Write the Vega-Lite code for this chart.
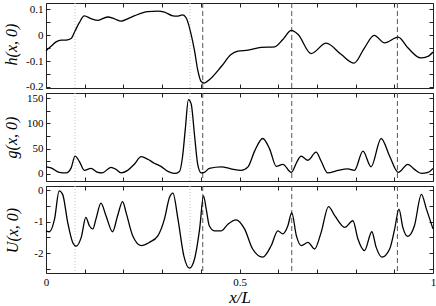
{
  "$schema": "https://vega.github.io/schema/vega-lite/v6.json",
  "padding": {"left": 0, "top": 2, "right": 0, "bottom": 0},
  "background": "white",
  "spacing": 5,
  "bounds": "flush",
  "datasets": {
    "lines": [
      {"x": 0.075, "type": "dotted"},
      {"x": 0.372, "type": "dotted"},
      {"x": 0.405, "type": "dashed"},
      {"x": 0.635, "type": "dashed"},
      {"x": 0.908, "type": "dashed"}
    ],
    "h": [
      {"x": 0, "y": -0.060}, {"x": 0.013, "y": -0.043}, {"x": 0.026, "y": -0.026}, {"x": 0.039, "y": -0.019},
      {"x": 0.052, "y": -0.019}, {"x": 0.065, "y": -0.013}, {"x": 0.075, "y": 0.016}, {"x": 0.086, "y": 0.048},
      {"x": 0.099, "y": 0.074}, {"x": 0.116, "y": 0.064}, {"x": 0.134, "y": 0.057}, {"x": 0.159, "y": 0.070},
      {"x": 0.177, "y": 0.063}, {"x": 0.194, "y": 0.054}, {"x": 0.211, "y": 0.063}, {"x": 0.228, "y": 0.074},
      {"x": 0.263, "y": 0.091}, {"x": 0.289, "y": 0.093}, {"x": 0.306, "y": 0.089}, {"x": 0.328, "y": 0.074},
      {"x": 0.338, "y": 0.073}, {"x": 0.353, "y": 0.078}, {"x": 0.362, "y": 0.067}, {"x": 0.375, "y": 0.003},
      {"x": 0.384, "y": -0.062}, {"x": 0.392, "y": -0.134}, {"x": 0.401, "y": -0.179}, {"x": 0.409, "y": -0.185},
      {"x": 0.422, "y": -0.172}, {"x": 0.453, "y": -0.121}, {"x": 0.478, "y": -0.075}, {"x": 0.496, "y": -0.062},
      {"x": 0.522, "y": -0.058}, {"x": 0.556, "y": -0.047}, {"x": 0.591, "y": -0.045}, {"x": 0.612, "y": -0.017},
      {"x": 0.634, "y": 0.018}, {"x": 0.651, "y": 0.003}, {"x": 0.685, "y": -0.071}, {"x": 0.724, "y": -0.031},
      {"x": 0.763, "y": -0.075}, {"x": 0.796, "y": -0.108}, {"x": 0.823, "y": -0.049}, {"x": 0.848, "y": -0.001},
      {"x": 0.875, "y": -0.030}, {"x": 0.910, "y": -0.008}, {"x": 0.935, "y": -0.049}, {"x": 0.968, "y": -0.088},
      {"x": 0.987, "y": -0.082}, {"x": 1.0, "y": -0.065}
    ],
    "g": [
      {"x": 0, "y": 14}, {"x": 0.013, "y": 12}, {"x": 0.034, "y": 3}, {"x": 0.052, "y": 2}, {"x": 0.065, "y": 12},
      {"x": 0.075, "y": 35}, {"x": 0.086, "y": 25}, {"x": 0.099, "y": 7}, {"x": 0.116, "y": 11}, {"x": 0.134, "y": 3},
      {"x": 0.145, "y": 2}, {"x": 0.168, "y": 13}, {"x": 0.181, "y": 9}, {"x": 0.194, "y": 2}, {"x": 0.211, "y": 7},
      {"x": 0.228, "y": 19}, {"x": 0.246, "y": 34}, {"x": 0.263, "y": 29}, {"x": 0.280, "y": 21}, {"x": 0.297, "y": 15},
      {"x": 0.315, "y": 5}, {"x": 0.332, "y": 1}, {"x": 0.345, "y": 5}, {"x": 0.353, "y": 35}, {"x": 0.360, "y": 89},
      {"x": 0.368, "y": 147}, {"x": 0.375, "y": 139}, {"x": 0.384, "y": 75}, {"x": 0.392, "y": 19}, {"x": 0.401, "y": 2},
      {"x": 0.409, "y": 3}, {"x": 0.422, "y": 11}, {"x": 0.453, "y": 14}, {"x": 0.478, "y": 10}, {"x": 0.504, "y": 7},
      {"x": 0.522, "y": 14}, {"x": 0.539, "y": 45}, {"x": 0.560, "y": 70}, {"x": 0.578, "y": 49}, {"x": 0.595, "y": 15},
      {"x": 0.612, "y": 19}, {"x": 0.634, "y": 3}, {"x": 0.649, "y": 25}, {"x": 0.659, "y": 35}, {"x": 0.677, "y": 27},
      {"x": 0.698, "y": 43}, {"x": 0.711, "y": 25}, {"x": 0.728, "y": 2}, {"x": 0.754, "y": 7}, {"x": 0.780, "y": 10},
      {"x": 0.797, "y": 7}, {"x": 0.819, "y": 45}, {"x": 0.840, "y": 14}, {"x": 0.866, "y": 70}, {"x": 0.888, "y": 35},
      {"x": 0.910, "y": 3}, {"x": 0.935, "y": 19}, {"x": 0.952, "y": 9}, {"x": 0.970, "y": 1}, {"x": 0.987, "y": 3},
      {"x": 1.0, "y": 11}
    ],
    "U": [
      {"x": 0, "y": -1.29}, {"x": 0.009, "y": -1.32}, {"x": 0.022, "y": -0.92}, {"x": 0.034, "y": -0.02},
      {"x": 0.043, "y": -0.13}, {"x": 0.056, "y": -1.02}, {"x": 0.069, "y": -1.66}, {"x": 0.078, "y": -1.78},
      {"x": 0.091, "y": -1.50}, {"x": 0.103, "y": -0.86}, {"x": 0.112, "y": -1.13}, {"x": 0.121, "y": -1.23},
      {"x": 0.129, "y": -0.92}, {"x": 0.142, "y": -0.41}, {"x": 0.155, "y": -0.81}, {"x": 0.172, "y": -1.32},
      {"x": 0.185, "y": -0.81}, {"x": 0.198, "y": -0.36}, {"x": 0.207, "y": -0.71}, {"x": 0.224, "y": -1.45},
      {"x": 0.246, "y": -1.76}, {"x": 0.267, "y": -1.66}, {"x": 0.289, "y": -1.45}, {"x": 0.306, "y": -0.92},
      {"x": 0.319, "y": -0.23}, {"x": 0.328, "y": -0.09}, {"x": 0.341, "y": -0.92}, {"x": 0.356, "y": -2.08},
      {"x": 0.371, "y": -2.48}, {"x": 0.384, "y": -2.18}, {"x": 0.397, "y": -1.23}, {"x": 0.407, "y": -0.18},
      {"x": 0.414, "y": -0.60}, {"x": 0.422, "y": -1.13}, {"x": 0.435, "y": -1.29}, {"x": 0.453, "y": -1.29},
      {"x": 0.470, "y": -1.08}, {"x": 0.491, "y": -0.94}, {"x": 0.513, "y": -1.23}, {"x": 0.534, "y": -1.87},
      {"x": 0.560, "y": -2.13}, {"x": 0.582, "y": -1.76}, {"x": 0.599, "y": -1.29}, {"x": 0.612, "y": -1.39},
      {"x": 0.625, "y": -1.13}, {"x": 0.635, "y": -0.71}, {"x": 0.647, "y": -1.45}, {"x": 0.660, "y": -1.76},
      {"x": 0.677, "y": -1.66}, {"x": 0.694, "y": -1.87}, {"x": 0.711, "y": -1.34}, {"x": 0.730, "y": -0.52},
      {"x": 0.746, "y": -0.81}, {"x": 0.772, "y": -1.18}, {"x": 0.793, "y": -0.97}, {"x": 0.806, "y": -1.55},
      {"x": 0.823, "y": -1.92}, {"x": 0.842, "y": -1.32}, {"x": 0.853, "y": -1.81}, {"x": 0.868, "y": -2.13},
      {"x": 0.888, "y": -1.87}, {"x": 0.901, "y": -1.23}, {"x": 0.912, "y": -0.60}, {"x": 0.922, "y": -1.18},
      {"x": 0.935, "y": -1.47}, {"x": 0.952, "y": -1.13}, {"x": 0.970, "y": -0.13}, {"x": 0.983, "y": -0.60},
      {"x": 1.0, "y": -1.23}
    ]
  },
  "vconcat": [
    {
      "width": 387, "height": 85,
      "layer": [
        {
          "data": {"name": "lines"},
          "mark": {"type": "rule", "strokeWidth": 1},
          "encoding": {
            "x": {"field": "x", "type": "quantitative", "scale": {"domain": [0, 1]}, "axis": null},
            "color": {"field": "type", "type": "nominal", "scale": {"domain": ["dotted", "dashed"], "range": ["#c4c4c4", "#555555"]}, "legend": null},
            "strokeDash": {"field": "type", "type": "nominal", "scale": {"domain": ["dotted", "dashed"], "range": [[1, 2], [5, 3]]}, "legend": null}
          }
        },
        {
          "data": {"name": "h"},
          "mark": {"type": "line", "color": "#000", "strokeWidth": 1.3, "interpolate": "monotone"},
          "encoding": {
            "x": {"field": "x", "type": "quantitative", "scale": {"domain": [0, 1]},
                  "axis": {"orient": "bottom", "values": [0,0.1,0.2,0.3,0.4,0.5,0.6,0.7,0.8,0.9,1], "labels": false, "title": null, "tickSize": -4}},
            "y": {"field": "y", "type": "quantitative", "scale": {"domain": [-0.204, 0.124], "nice": false, "zero": false},
                  "axis": {"orient": "left", "values": [-0.2,-0.15,-0.1,-0.05,0,0.05,0.1], "tickSize": -4,
                           "labelExpr": "abs(datum.value*10 - round(datum.value*10)) < 0.001 ? (datum.value == 0 ? '0' : (datum.value < 0 ? '-' : '') + format(abs(datum.value), '.1f')) : ''",
                           "title": "h(x, 0)", "titleX": -35, "titleY": 41, "titleBaseline": "middle", "titleAlign": "center", "minExtent": 45, "maxExtent": 45}}
          }
        },
        {
          "data": {"name": "h"},
          "mark": {"type": "line", "opacity": 0},
          "encoding": {
            "x": {"field": "x", "type": "quantitative", "axis": {"orient": "top", "values": [0,0.1,0.2,0.3,0.4,0.5,0.6,0.7,0.8,0.9,1], "labels": false, "title": null, "tickSize": -4}},
            "y": {"field": "y", "type": "quantitative", "axis": {"orient": "right", "values": [-0.2,-0.15,-0.1,-0.05,0,0.05,0.1], "labels": false, "title": null, "tickSize": -4}}
          }
        }
      ]
    },
    {
      "width": 387, "height": 88,
      "layer": [
        {
          "data": {"name": "lines"},
          "mark": {"type": "rule", "strokeWidth": 1},
          "encoding": {
            "x": {"field": "x", "type": "quantitative", "scale": {"domain": [0, 1]}, "axis": null},
            "color": {"field": "type", "type": "nominal", "scale": {"domain": ["dotted", "dashed"], "range": ["#c4c4c4", "#555555"]}, "legend": null},
            "strokeDash": {"field": "type", "type": "nominal", "scale": {"domain": ["dotted", "dashed"], "range": [[1, 2], [5, 3]]}, "legend": null}
          }
        },
        {
          "data": {"name": "g"},
          "mark": {"type": "line", "color": "#000", "strokeWidth": 1.3, "interpolate": "monotone"},
          "encoding": {
            "x": {"field": "x", "type": "quantitative", "scale": {"domain": [0, 1]},
                  "axis": {"orient": "bottom", "values": [0,0.1,0.2,0.3,0.4,0.5,0.6,0.7,0.8,0.9,1], "labels": false, "title": null, "tickSize": -4}},
            "y": {"field": "y", "type": "quantitative", "scale": {"domain": [-14, 160], "nice": false, "zero": false},
                  "axis": {"orient": "left", "values": [0,25,50,75,100,125,150], "tickSize": -4,
                           "labelExpr": "datum.value % 50 == 0 ? format(datum.value, 'd') : ''",
                           "title": "g(x, 0)", "titleX": -35, "titleY": 44, "titleBaseline": "middle", "titleAlign": "center", "minExtent": 45, "maxExtent": 45}}
          }
        },
        {
          "data": {"name": "g"},
          "mark": {"type": "line", "opacity": 0},
          "encoding": {
            "x": {"field": "x", "type": "quantitative", "axis": {"orient": "top", "values": [0,0.1,0.2,0.3,0.4,0.5,0.6,0.7,0.8,0.9,1], "labels": false, "title": null, "tickSize": -4}},
            "y": {"field": "y", "type": "quantitative", "axis": {"orient": "right", "values": [0,25,50,75,100,125,150], "labels": false, "title": null, "tickSize": -4}}
          }
        }
      ]
    },
    {
      "width": 387, "height": 87,
      "layer": [
        {
          "data": {"name": "lines"},
          "mark": {"type": "rule", "strokeWidth": 1},
          "encoding": {
            "x": {"field": "x", "type": "quantitative", "scale": {"domain": [0, 1]}, "axis": null},
            "color": {"field": "type", "type": "nominal", "scale": {"domain": ["dotted", "dashed"], "range": ["#c4c4c4", "#555555"]}, "legend": null},
            "strokeDash": {"field": "type", "type": "nominal", "scale": {"domain": ["dotted", "dashed"], "range": [[1, 2], [5, 3]]}, "legend": null}
          }
        },
        {
          "data": {"name": "U"},
          "mark": {"type": "line", "color": "#000", "strokeWidth": 1.3, "interpolate": "monotone"},
          "encoding": {
            "x": {"field": "x", "type": "quantitative", "scale": {"domain": [0, 1]},
                  "axis": {"orient": "bottom", "values": [0,0.1,0.2,0.3,0.4,0.5,0.6,0.7,0.8,0.9,1], "tickSize": -4,
                           "labelExpr": "datum.value == 0 ? '0' : datum.value == 0.5 ? '0.5' : datum.value == 1 ? '1' : ''",
                           "labelFlush": false,
                           "title": "x/L", "titleFontSize": 17, "titleY": 24, "titleBaseline": "middle"}},
            "y": {"field": "y", "type": "quantitative", "scale": {"domain": [-2.635, 0.137], "nice": false, "zero": false},
                  "axis": {"orient": "left", "values": [-2.5,-2,-1.5,-1,-0.5,0], "tickSize": -4,
                           "labelExpr": "datum.value % 1 == 0 ? (datum.value < 0 ? '-' : '') + format(abs(datum.value), 'd') : ''",
                           "title": "U(x, 0)", "titleX": -34, "titleY": 44, "titleBaseline": "middle", "titleAlign": "center", "minExtent": 45, "maxExtent": 45}}
          }
        },
        {
          "data": {"name": "U"},
          "mark": {"type": "line", "opacity": 0},
          "encoding": {
            "x": {"field": "x", "type": "quantitative", "axis": {"orient": "top", "values": [0,0.1,0.2,0.3,0.4,0.5,0.6,0.7,0.8,0.9,1], "labels": false, "title": null, "tickSize": -4}},
            "y": {"field": "y", "type": "quantitative", "axis": {"orient": "right", "values": [-2.5,-2,-1.5,-1,-0.5,0], "labels": false, "title": null, "tickSize": -4}}
          }
        }
      ]
    }
  ],
  "config": {
    "view": {"stroke": "#222", "strokeWidth": 1},
    "axis": {
      "labelFont": "Liberation Serif", "titleFont": "Liberation Serif",
      "labelFontSize": 11, "titleFontSize": 16, "titleFontStyle": "italic", "titleFontWeight": "normal",
      "domain": false, "grid": false, "tickColor": "#222", "labelColor": "#000", "titleColor": "#000",
      "labelPadding": 7
    }
  }
}
